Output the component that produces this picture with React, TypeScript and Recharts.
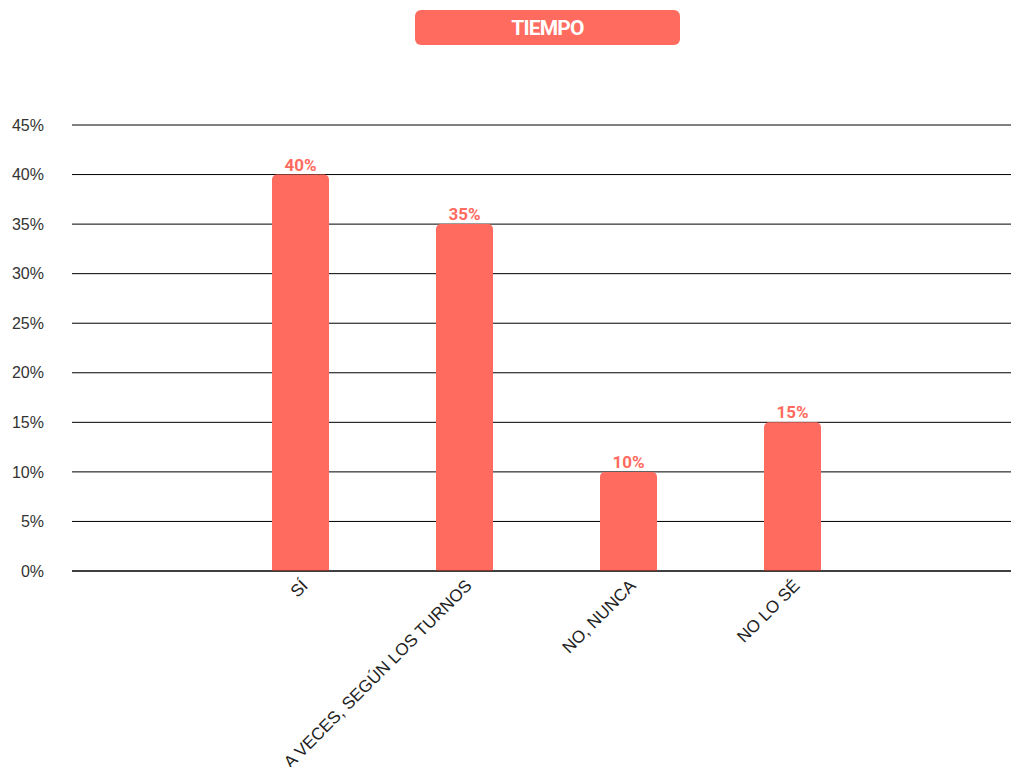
import React from 'react';
import { BarChart, Bar, XAxis, YAxis, CartesianGrid, LabelList } from 'recharts';

const categories = ['SÍ', 'A VECES, SEGÚN LOS TURNOS', 'NO, NUNCA', 'NO LO SÉ'];
const values = [40, 35, 10, 15];
const yTicks = [0, 5, 10, 15, 20, 25, 30, 35, 40, 45];
const title = 'TIEMPO';

const data = categories.map((c, i) => ({ name: c, value: values[i] }));

const COLOR = '#FF6B5F';
const FONT = 'Roboto, sans-serif';
const AXIS_FONT = '"Liberation Sans", Arial, sans-serif';

const XTick = (props: any) => {
  const { x, y, payload } = props;
  return (
    <g transform={`translate(${x + 6},${y + 5})`}>
      <text
        transform="rotate(-45)"
        textAnchor="end"
        fontFamily={AXIS_FONT}
        fontSize={17}
        fill="#222"
        dy={4}
      >
        {payload.value}
      </text>
    </g>
  );
};

export default function App() {
  return (
    <div style={{ position: 'absolute', left: 0, top: 0, width: 1011, height: 767, background: '#fff' }}>
      <div
        style={{
          position: 'absolute',
          left: 415,
          top: 10,
          width: 265,
          height: 35,
          background: COLOR,
          borderRadius: 6,
          color: '#fff',
          fontFamily: FONT,
          fontWeight: 700,
          fontSize: 21,
          lineHeight: '36px',
          textAlign: 'center',
          letterSpacing: -0.8,
        }}
      >
        {title}
      </div>
      <BarChart
        width={1011}
        height={767}
        data={data}
        margin={{ top: 125, right: 0, bottom: 0, left: 0 }}
      >
        <CartesianGrid horizontal vertical={false} stroke="#000" strokeOpacity={1} />
        <XAxis
          dataKey="name"
          interval={0}
          height={196}
          padding={{ left: 146, right: 137 }}
          tickLine={false}
          axisLine={{ stroke: '#000' }}
          tick={<XTick />}
        />
        <YAxis
          width={72}
          domain={[0, 45]}
          ticks={yTicks}
          interval={0}
          tickLine={false}
          axisLine={false}
          tickSize={0}
          tickMargin={28}
          tickFormatter={(v: number) => `${v}%`}
          tick={{ fontFamily: AXIS_FONT, fontSize: 16, fill: '#333' }}
        />
        <Bar dataKey="value" fill={COLOR} barSize={57} radius={[5, 5, 0, 0]} isAnimationActive={false}>
          <LabelList
            dataKey="value"
            position="top"
            offset={4}
            formatter={(v: any) => `${v}%`}
            style={{ fontFamily: FONT, fontSize: 17, fontWeight: 700, fill: COLOR }}
          />
        </Bar>
      </BarChart>
    </div>
  );
}
